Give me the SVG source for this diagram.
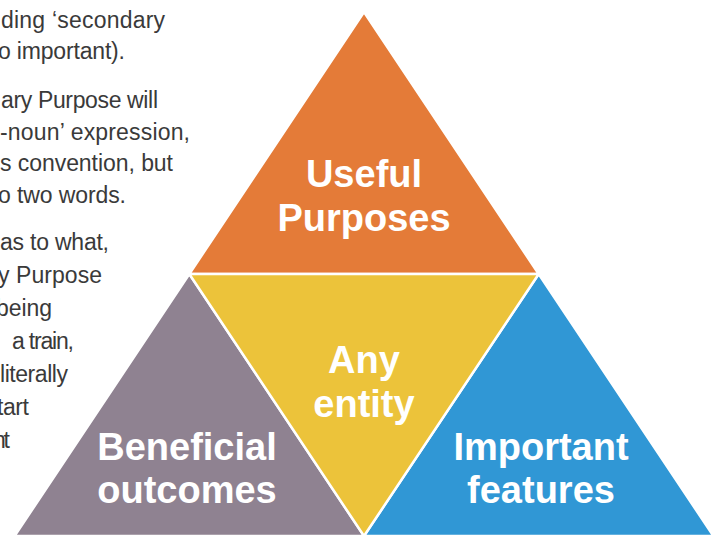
<svg xmlns="http://www.w3.org/2000/svg" width="723" height="536" viewBox="0 0 723 536">
  <style>
    .body { font-family: "Liberation Sans", Arial, sans-serif; font-size: 23px; fill: #3a3a3a; }
    .tri { stroke: #ffffff; stroke-width: 2.5; stroke-linejoin: miter; }
    .label { font-family: "Liberation Sans", Arial, sans-serif; font-size: 38px; font-weight: bold; fill: #ffffff; text-anchor: middle; }
  </style>
  <rect width="723" height="536" fill="#ffffff"/>

  <!-- body copy running in from the left margin -->
  <g id="body-text">
    <text class="body" x="1" y="28" textLength="164" lengthAdjust="spacing">ding ‘secondary</text>
    <text class="body" x="-2" y="59" textLength="127" lengthAdjust="spacing">o important).</text>
    <text class="body" x="1" y="108" textLength="157" lengthAdjust="spacing">ary Purpose will</text>
    <text class="body" x="0" y="140" textLength="190" lengthAdjust="spacing">-noun’ expression,</text>
    <text class="body" x="0" y="171" textLength="173" lengthAdjust="spacing">s convention, but</text>
    <text class="body" x="-2" y="203" textLength="128" lengthAdjust="spacing">o two words.</text>
    <text class="body" x="0" y="250" textLength="109" lengthAdjust="spacing">as to what,</text>
    <text class="body" x="-2" y="283" textLength="104" lengthAdjust="spacing">y Purpose</text>
    <text class="body" x="-4" y="316" textLength="56" lengthAdjust="spacing">being</text>
    <text class="body" x="12" y="349" textLength="62" lengthAdjust="spacing">a train,</text>
    <text class="body" x="0" y="382" textLength="68" lengthAdjust="spacing">literally</text>
    <text class="body" x="-3" y="415" textLength="32" lengthAdjust="spacing">tart</text>
    <text class="body" x="-7" y="448" textLength="17" lengthAdjust="spacing">nt</text>
  </g>

  <!-- pyramid: four triangles -->
  <g id="useful-purposes">
    <polygon class="tri" fill="#E47B38" points="364,12 538.7,274 189.3,274"/>
    <text class="label" x="364" y="187">Useful</text>
    <text class="label" x="364" y="231">Purposes</text>
  </g>
  <g id="beneficial-outcomes">
    <polygon class="tri" fill="#8F8291" points="189.3,274 364,536 14.6,536"/>
    <text class="label" x="187" y="460">Beneficial</text>
    <text class="label" x="187" y="503">outcomes</text>
  </g>
  <g id="important-features">
    <polygon class="tri" fill="#3097D5" points="538.7,274 713.4,536 364,536"/>
    <text class="label" x="541" y="460">Important</text>
    <text class="label" x="541" y="503">features</text>
  </g>
  <g id="any-entity">
    <polygon class="tri" fill="#ECC33A" points="189.3,274 538.7,274 364,536"/>
    <text class="label" x="364" y="373">Any</text>
    <text class="label" x="364" y="417">entity</text>
  </g>
</svg>
